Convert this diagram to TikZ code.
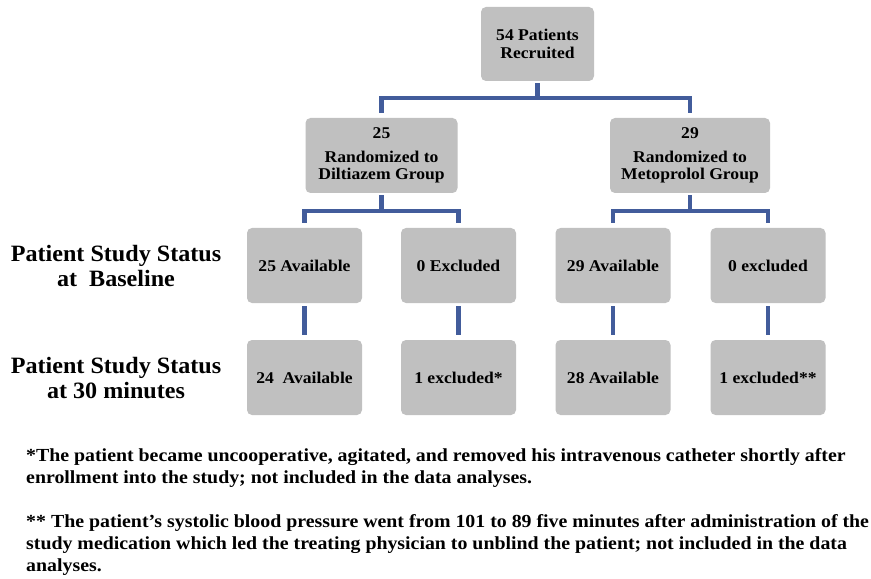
\documentclass[tikz,border=0pt]{standalone}
\usepackage{fontspec}
\setmainfont{Liberation Serif}
\newfontfamily\widefont[FakeStretch=1.07]{Liberation Serif}
\newfontfamily\fnfont[FakeStretch=1.077]{Liberation Serif}
\newfontfamily\lblfont[FakeStretch=1.03]{Liberation Serif}
\definecolor{connblue}{RGB}{66,92,155}
\definecolor{boxgray}{RGB}{192,192,192}
\begin{document}
\begin{tikzpicture}[x=1bp,y=-1bp,
  box/.style={fill=boxgray, rounded corners=5bp, inner sep=0pt, align=center,
    minimum width=115bp, minimum height=75bp,
    font=\widefont\fontsize{16.5}{17.5}\bfseries\selectfont},
  conn/.style={draw=connblue, line width=4.2bp},
  lbl/.style={align=center, inner sep=0pt, font=\lblfont\fontsize{23.5}{25}\bfseries\selectfont},
  fn/.style={anchor=base west, inner sep=0pt, font=\fnfont\fontsize{18.5}{21}\bfseries\selectfont}]
\fill[white] (0,0) rectangle (871,579);
\useasboundingbox (0,0) rectangle (871,579);

% top level
\node[box, minimum width=113bp, minimum height=74bp] (top) at (537.5,44) {54 Patients\\Recruited};
\node[box, minimum width=152bp] (dil) at (381.5,155.5) {25\\[6bp]Randomized to\\Diltiazem Group};
\node[box, minimum width=160bp] (met) at (690,155.5) {29\\[6bp]Randomized to\\Metoprolol Group};

% baseline row
\node[box] (b1) at (304.5,265.5) {25 Available};
\node[box] (b2) at (458.5,265.5) {0 Excluded};
\node[box] (b3) at (613,265.5) {29 Available};
\node[box] (b4) at (768,265.5) {0 excluded};

% 30 minutes row
\node[box] (m1) at (304.5,377.5) {24~~Available};
\node[box] (m2) at (458.5,377.5) {1 excluded*};
\node[box] (m3) at (613,377.5) {28 Available};
\node[box] (m4) at (768,377.5) {1 excluded**};

% row labels
\node[lbl] (l1) at (116,266) {Patient Study Status\\at~~Baseline};
\node[lbl] (l2) at (116,378) {Patient Study Status\\at 30 minutes};

% connectors
\draw[conn, shorten <=2bp] (top.south) -- (top.south |- 0,98);
\draw[conn, shorten <=5bp, shorten >=5bp] (dil.north) -- (dil.north |- 0,98) -- (met.north |- 0,98) -- (met.north);
\draw[conn, shorten <=2bp] (dil.south) -- (dil.south |- 0,211);
\draw[conn, shorten <=5bp, shorten >=5bp] (b1.north) -- (b1.north |- 0,211) -- (b2.north |- 0,211) -- (b2.north);
\draw[conn, shorten <=2bp] (met.south) -- (met.south |- 0,211);
\draw[conn, shorten <=5bp, shorten >=5bp] (b3.north) -- (b3.north |- 0,211) -- (b4.north |- 0,211) -- (b4.north);
\foreach \i in {1,2,3,4}{
  \draw[conn, shorten <=3bp, shorten >=5bp] (b\i.south) -- (m\i.north);
}

% footnotes
\node[fn] (f1a) at (26,461) {*The patient became uncooperative, agitated, and removed his intravenous catheter shortly after};
\node[fn] (f1b) at (26,483) {enrollment into the study; not included in the data analyses.};
\node[fn] (f2a) at (26,527) {** The patient’s systolic blood pressure went from 101 to 89 five minutes after administration of the};
\node[fn] (f2b) at (26,549) {study medication which led the treating physician to unblind the patient; not included in the data};
\node[fn] (f2c) at (26,571) {analyses.};
\end{tikzpicture}
\end{document}
